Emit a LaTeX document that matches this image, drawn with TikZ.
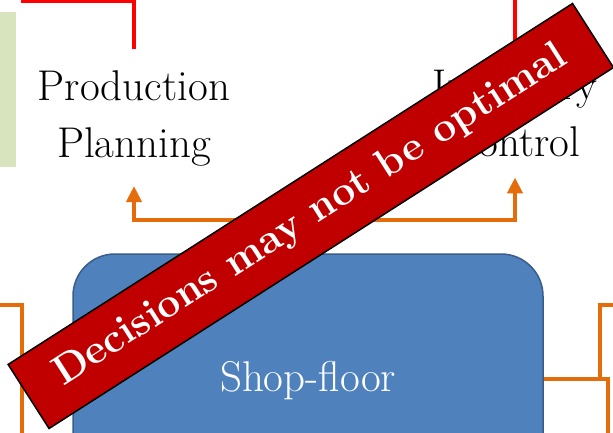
\documentclass[tikz,border=0pt]{standalone}
\usepackage{fontspec}
\usetikzlibrary{arrows.meta}
\definecolor{ored}{HTML}{FF0000}
\definecolor{oorange}{HTML}{E46C0A}
\definecolor{boxblue}{HTML}{4F81BD}
\definecolor{boxedge}{HTML}{385D8A}
\definecolor{bannerred}{HTML}{C00000}
\definecolor{sidegreen}{HTML}{D7E4BD}
\tikzset{
  label text/.style={inner sep=0pt, align=center, font=\fontsize{43}{57}\selectfont, anchor=north},
  redline/.style={draw=ored, line width=4pt},
  orangeline/.style={draw=oorange, line width=4pt},
  orangearrow/.style={orangeline, -{Triangle[width=15pt,length=16pt]}},
  shopbox/.style={draw=boxedge, line width=1.5pt, fill=boxblue, rounded corners=42pt,
    minimum width=470pt, minimum height=254pt, text=white, font=\fontsize{43}{50}\selectfont},
  banner/.style={draw=black, line width=1.5pt, fill=bannerred, rotate=32.6,
    minimum width=670pt, minimum height=76pt, inner sep=0pt, text=white,
    font=\fontsize{41}{48}\selectfont\bfseries}
}
\begin{document}
\begin{tikzpicture}[x=1pt,y=-1pt]
\useasboundingbox (0,0) rectangle (613,433);
\clip (0,0) rectangle (613,433);
% side green bar
\fill[sidegreen] (0,12) rectangle (16,167);
% text nodes
\node[label text] (pp) at (134,70) {Production\\Planning};
\node[label text] (ic) at (515,70) {Inventory\\Control};
% shop floor box
\node[shopbox] (shop) at (308,381) {Shop-floor};
% red lines from above
\coordinate (rl) at (21,1.5);
\coordinate (rt) at (515,-5);
\draw[redline] (rl) -| ([yshift=21pt]pp.north);
\draw[redline] (rt) -- ([yshift=21pt]ic.north);
% orange split arrow
\coordinate (split) at (shop.north |- 0,220);
\draw[orangeline] (shop.north) -- (split);
\draw[orangearrow] (split) -| ([yshift=-20pt]pp.south);
\draw[orangearrow] (split) -| ([yshift=-20pt]ic.south);
% side connectors
\coordinate (lin) at (-5,305);
\coordinate (lc) at (22,305);
\coordinate (lout) at (22,440);
\draw[orangeline] (lin) -- (lc) -- (lout);
\coordinate (rc) at (608,379);
\coordinate (rb) at (600,379);
\coordinate (rout) at (608,440);
\coordinate (rtop) at (620,305);
\draw[orangeline] ([yshift=2pt]shop.east) -- (rc) -- (rout);
\draw[orangeline] (rb) |- (rtop);
% banner
\node[banner] (ban) at (310.8,216) {Decisions may not be optimal};
\end{tikzpicture}
\end{document}
